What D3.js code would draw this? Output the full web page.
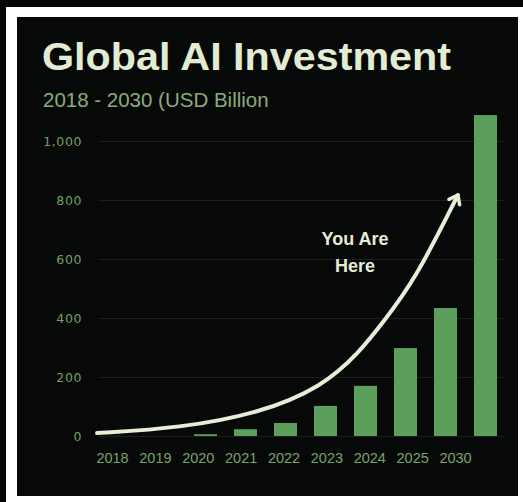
<!DOCTYPE html>
<html>
<head>
<meta charset="utf-8">
<script src="https://cdn.jsdelivr.net/npm/d3@7"></script>
<style>
  html, body { margin: 0; padding: 0; background: #ffffff; }
  svg { display: block; }
</style>
</head>
<body>
<div id="chart"></div>
<script>
// ---- data ----
const title = "Global AI Investment";
const subtitle = "2018 - 2030 (USD Billion";
const barKeys = ["2018", "2019", "2020", "2021", "2022", "2023", "2024", "2025", "2030", "2030+"];
const barValues = [0, 0, 6, 23, 44, 102, 170, 298, 434, 1088];
const xTickLabels = ["2018", "2019", "2020", "2021", "2022", "2023", "2024", "2025", "2030"];
const yTickValues = [0, 200, 400, 600, 800, 1000];
// annotation arrow path in data units: [bar index position, value]
const arrowIdx = [-0.71, 1.36, 3.36, 4.9, 5.86, 6.44, 7.24, 8.31];
const arrowVal = [10, 27, 78, 165, 285, 386, 529, 817];
const annotationLines = ["You Are", "Here"];

// ---- layout ----
const W = 523, H = 502;
const svg = d3.select("#chart").append("svg").attr("width", W).attr("height", H);

svg.append("rect").attr("width", W).attr("height", H).attr("fill", "#ffffff");
svg.append("rect").attr("x", 0).attr("y", 0).attr("width", W).attr("height", 7).attr("fill", "#050505");
svg.append("rect").attr("x", 0).attr("y", 0).attr("width", 6).attr("height", H).attr("fill", "#050505");
svg.append("rect").attr("x", 17).attr("y", 17).attr("width", 501).attr("height", 479).attr("fill", "#070909");

const plotLeft = 98, plotRight = 505;
const y = d3.scaleLinear().domain([0, 1000]).range([436, 141]);
const x = d3.scaleBand().domain(barKeys).range([106, 505]).paddingInner(0.425).paddingOuter(0.2);
const xIdx = d3.scaleLinear().domain([0, 1]).range([x(barKeys[0]) + x.bandwidth() / 2, x(barKeys[1]) + x.bandwidth() / 2]);
const xLab = d3.scalePoint().domain(xTickLabels).range([112, 455]);

// gridlines
const grid = svg.append("g").attr("transform", `translate(${plotLeft},0)`)
  .call(d3.axisLeft(y).tickValues(yTickValues).tickSize(-(plotRight - plotLeft)).tickFormat(""));
grid.select(".domain").remove();
grid.selectAll(".tick line").attr("stroke", "#1b1f1c").attr("stroke-width", 1);

// y axis labels
const yAxis = svg.append("g").attr("transform", `translate(${plotLeft},0)`)
  .call(d3.axisLeft(y).tickValues(yTickValues).tickSize(0).tickPadding(16).tickFormat(d3.format(",")));
yAxis.select(".domain").remove();
yAxis.selectAll("text")
  .attr("fill", "#72a062")
  .style("font-family", "'DejaVu Sans', sans-serif")
  .style("font-size", "12.5px")
  .style("letter-spacing", "0.6px");

// bars
svg.append("g").selectAll("rect").data(barValues).join("rect")
  .attr("x", (d, i) => x(barKeys[i]))
  .attr("y", d => y(d))
  .attr("width", x.bandwidth())
  .attr("height", d => y(0) - y(d))
  .attr("fill", "#5c9f5c");

// x axis labels
const xAxis = svg.append("g").attr("transform", `translate(0,${y(0)})`)
  .call(d3.axisBottom(xLab).tickSize(0).tickPadding(17));
xAxis.select(".domain").remove();
xAxis.selectAll("text")
  .attr("fill", "#7aa36a")
  .style("font-family", "'Liberation Sans', Arial, sans-serif")
  .style("font-size", "14.5px");

// arrow curve
const defs = svg.append("defs");
defs.append("marker")
  .attr("id", "arrowhead")
  .attr("viewBox", "-10 -10 20 20")
  .attr("refX", 0).attr("refY", 0)
  .attr("markerWidth", 20).attr("markerHeight", 20)
  .attr("markerUnits", "userSpaceOnUse")
  .attr("orient", "auto")
  .append("path")
  .attr("d", "M-8,-6 L0,0 L-8,6")
  .attr("fill", "none")
  .attr("stroke", "#e6eed8")
  .attr("stroke-width", 3.5)
  .attr("stroke-linecap", "round")
  .attr("stroke-linejoin", "round");

const arrowPts = arrowIdx.map((v, i) => [xIdx(v), y(arrowVal[i])]);
svg.append("path")
  .attr("d", d3.line().curve(d3.curveBasis)(arrowPts))
  .attr("fill", "none")
  .attr("stroke", "#e6eed8")
  .attr("stroke-width", 4)
  .attr("stroke-linecap", "round")
  .attr("marker-end", "url(#arrowhead)");

// annotation text
const ann = svg.append("text")
  .attr("text-anchor", "middle")
  .attr("fill", "#e4ecd8")
  .style("font-family", "'Liberation Sans', Arial, sans-serif")
  .style("font-weight", "bold")
  .style("font-size", "18px");
annotationLines.forEach((t, i) => {
  ann.append("tspan").attr("x", 355).attr("y", 245 + i * 27).text(t);
});

// title & subtitle
svg.append("text")
  .attr("x", 42).attr("y", 70)
  .attr("fill", "#e2ecd2")
  .attr("textLength", 409).attr("lengthAdjust", "spacingAndGlyphs")
  .style("font-family", "'Liberation Sans', Arial, sans-serif")
  .style("font-weight", "bold")
  .style("font-size", "39px")
  .text(title);

svg.append("text")
  .attr("x", 43).attr("y", 107)
  .attr("fill", "#8cab7a")
  .style("font-family", "'Liberation Sans', Arial, sans-serif")
  .style("font-size", "20.5px")
  .text(subtitle);
</script>
</body>
</html>
